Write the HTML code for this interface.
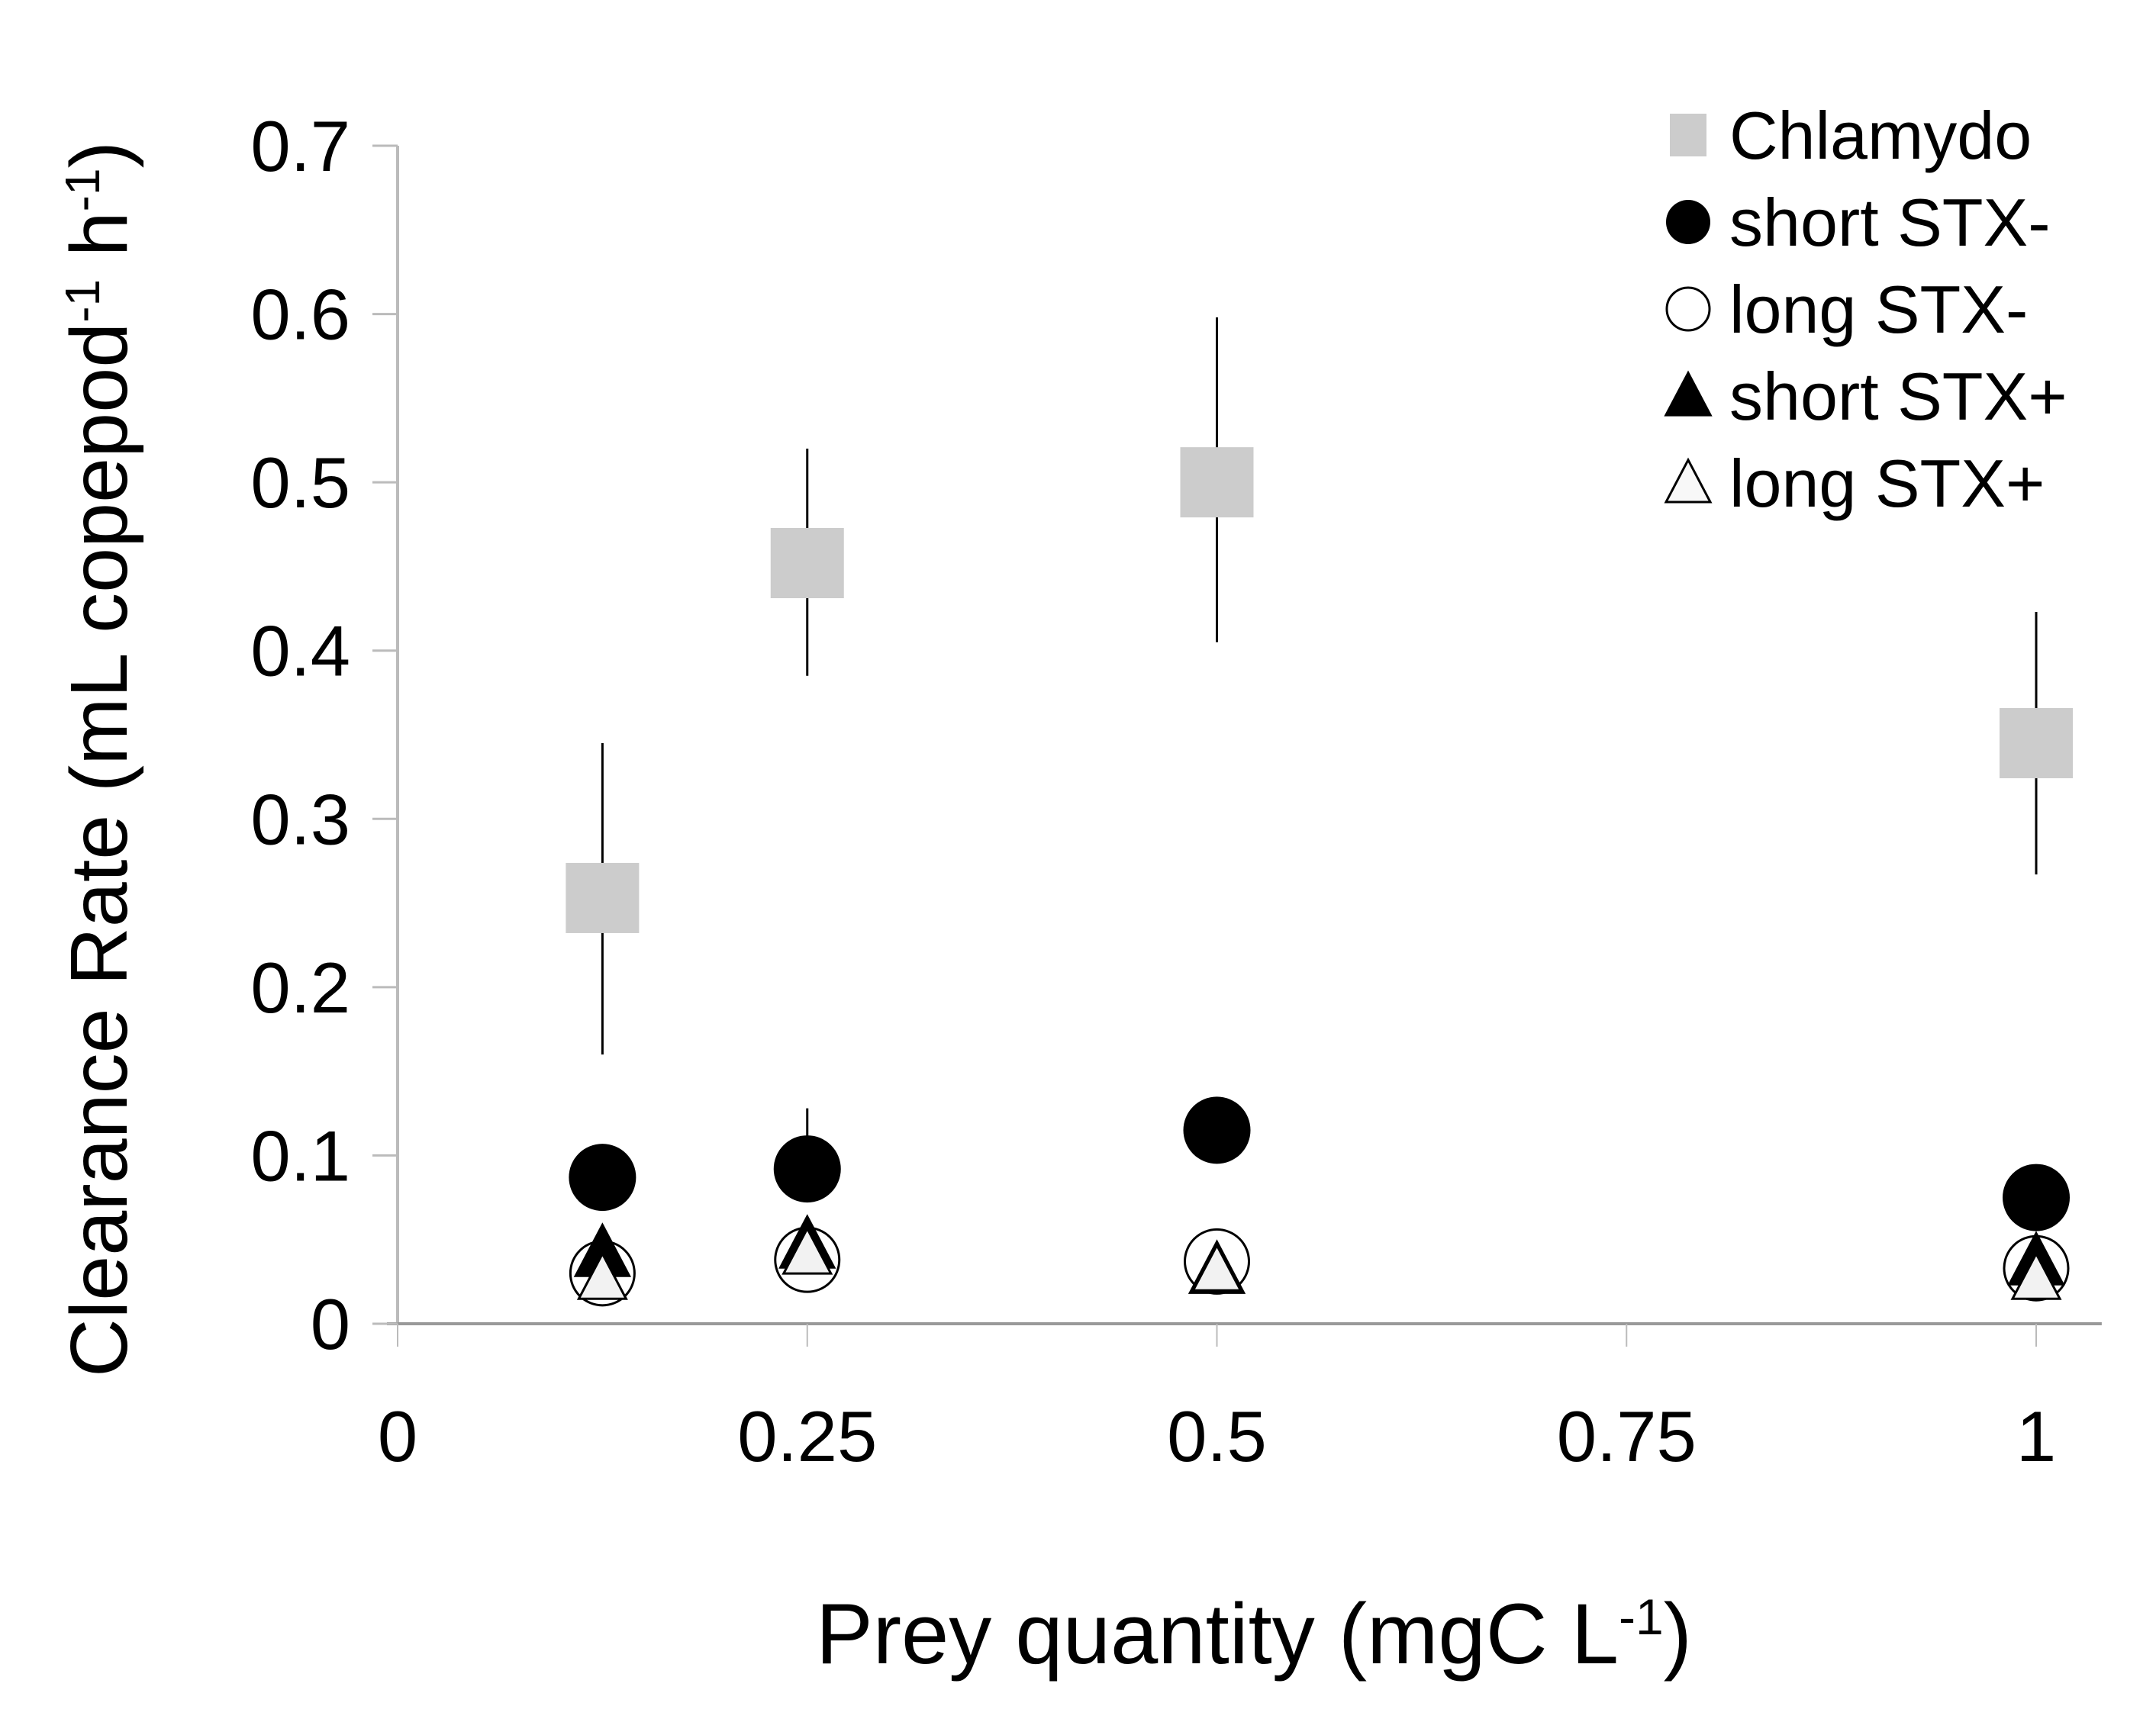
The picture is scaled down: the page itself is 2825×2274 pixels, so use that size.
<!DOCTYPE html>
<html><head><meta charset="utf-8"><style>
html,body{margin:0;padding:0;background:#fff;}
svg{display:block;font-family:"Liberation Sans","DejaVu Sans",sans-serif;}
</style></head><body>
<svg id="chart" width="2825" height="2274" viewBox="0 0 2825 2274" xmlns="http://www.w3.org/2000/svg">
<rect width="2825" height="2274" fill="#fff"/>
<g id="axes"></g>
<g id="marks"></g>
<g id="legend"></g>
<text transform="translate(166,995) rotate(-90)" text-anchor="middle" font-size="106" fill="#000" textLength="1620" lengthAdjust="spacingAndGlyphs">Clearance Rate (mL copepod<tspan dy="-36" font-size="64">-1</tspan><tspan dy="36"> h</tspan><tspan dy="-36" font-size="64">-1</tspan><tspan dy="36">)</tspan></text>
<text x="1643" y="2180" text-anchor="middle" font-size="112" fill="#000">Prey quantity (mgC L<tspan dy="-38" font-size="66">-1</tspan><tspan dy="38">)</tspan></text>
</svg>
<script>
const xCats = [0.125, 0.25, 0.5, 1];
const chlamydo = [0.253, 0.452, 0.5, 0.345];
const chlamydoLo = [0.16, 0.385, 0.405, 0.267];
const chlamydoHi = [0.345, 0.52, 0.598, 0.423];
const shortMinus = [0.087, 0.092, 0.115, 0.075];
const shortMinusHi = [0.087, 0.128, 0.115, 0.075];
const longMinus = [0.03, 0.038, 0.037, 0.033];
const shortPlus = [0.04, 0.045, 0.03, 0.035];
const longPlus = [0.025, 0.04, 0.03, 0.025];
const yTicks = [0, 0.1, 0.2, 0.3, 0.4, 0.5, 0.6, 0.7];
const xTicks = [0, 0.25, 0.5, 0.75, 1];
const xTickLabels = ["0", "0.25", "0.5", "0.75", "1"];
const legendLabels = ["Chlamydo", "short STX-", "long STX-", "short STX+", "long STX+"];

const NS = "http://www.w3.org/2000/svg";
const X = v => 521 + v * 2147;
const Y = v => 1735 - v / 0.7 * 1544;
function mk(tag, attrs, parent, text) {
  const e = document.createElementNS(NS, tag);
  for (const k in attrs) e.setAttribute(k, attrs[k]);
  if (text !== undefined) e.textContent = text;
  parent.appendChild(e);
  return e;
}
const axes = document.getElementById('axes');
const marks = document.getElementById('marks');
const legend = document.getElementById('legend');

let el = mk('line', {x1: X(0), y1: Y(0.7), x2: X(0), y2: Y(0), stroke: '#bbb', 'stroke-width': 4}, axes);


el = mk('line', {x1: X(0) - 14, y1: Y(0), x2: X(1.04), y2: Y(0), stroke: '#999', 'stroke-width': 4}, axes);


yTicks.forEach(t => {
  mk('line', {x1: X(0) - 33, y1: Y(t), x2: X(0), y2: Y(t), stroke: '#bbb', 'stroke-width': 3}, axes);
  const tx = mk('text', {x: 459, y: Y(t) + 33, 'text-anchor': 'end', 'font-size': 94, fill: '#000'}, axes, String(t));
  
  
});
xTicks.forEach((t, i) => {
  mk('line', {x1: X(t), y1: Y(0), x2: X(t), y2: Y(0) + 30, stroke: '#bbb', 'stroke-width': 2}, axes);
  const tx = mk('text', {x: X(t), y: 1915, 'text-anchor': 'middle', 'font-size': 94, fill: '#000'}, axes, xTickLabels[i]);
  
  
});

function tri(cx, cy, s, fill, stroke, sw, parent) {
  const h = s * 0.95;
  return mk('polygon', {points: `${cx},${cy - h * 0.62} ${cx - s / 2},${cy + h * 0.38} ${cx + s / 2},${cy + h * 0.38}`, fill: fill, stroke: stroke, 'stroke-width': sw}, parent);
}
xCats.forEach((c, i) => {
  const cx = X(c);
  let e = mk('line', {x1: cx, y1: Y(chlamydoLo[i]), x2: cx, y2: Y(chlamydoHi[i]), stroke: '#000', 'stroke-width': 3}, marks);
  
  
  e = mk('line', {x1: cx, y1: Y(shortMinus[i]), x2: cx, y2: Y(shortMinusHi[i]), stroke: '#000', 'stroke-width': 3}, marks);
  
  
  e = mk('rect', {x: cx - 48, y: Y(chlamydo[i]) - 46, width: 96, height: 92, fill: '#cccccc'}, marks);
  
  
  e = mk('circle', {cx: cx, cy: Y(shortMinus[i]), r: 44, fill: '#000'}, marks);
  
  
  e = mk('circle', {cx: cx, cy: Y(longMinus[i]), r: 42, fill: '#fff', stroke: '#000', 'stroke-width': 3}, marks);
  
  
  e = tri(cx, Y(shortPlus[i]), 72, '#000', '#000', 2, marks);
  
  
  e = tri(cx, Y(longPlus[i]), 62, '#f2f2f2', '#000', 3, marks);
  
  
});

const lx = 2212, ly0 = 177, ldy = 114;
legendLabels.forEach((lab, i) => {
  const cy = ly0 + i * ldy;
  let m;
  if (i === 0) m = mk('rect', {x: lx - 24, y: cy - 28, width: 48, height: 56, fill: '#cccccc'}, legend);
  else if (i === 1) m = mk('circle', {cx: lx, cy: cy, r: 29, fill: '#000'}, legend);
  else if (i === 2) m = mk('circle', {cx: lx, cy: cy, r: 28, fill: '#fff', stroke: '#000', 'stroke-width': 3}, legend);
  else if (i === 3) m = tri(lx, cy + 4, 60, '#000', '#000', 2, legend);
  else m = tri(lx, cy + 4, 58, '#f8f8f8', '#000', 3, legend);
  
  
  const t = mk('text', {x: 2266, y: cy + 31, 'font-size': 88, fill: '#000'}, legend, lab);
  
  
});
</script>
</body></html>
